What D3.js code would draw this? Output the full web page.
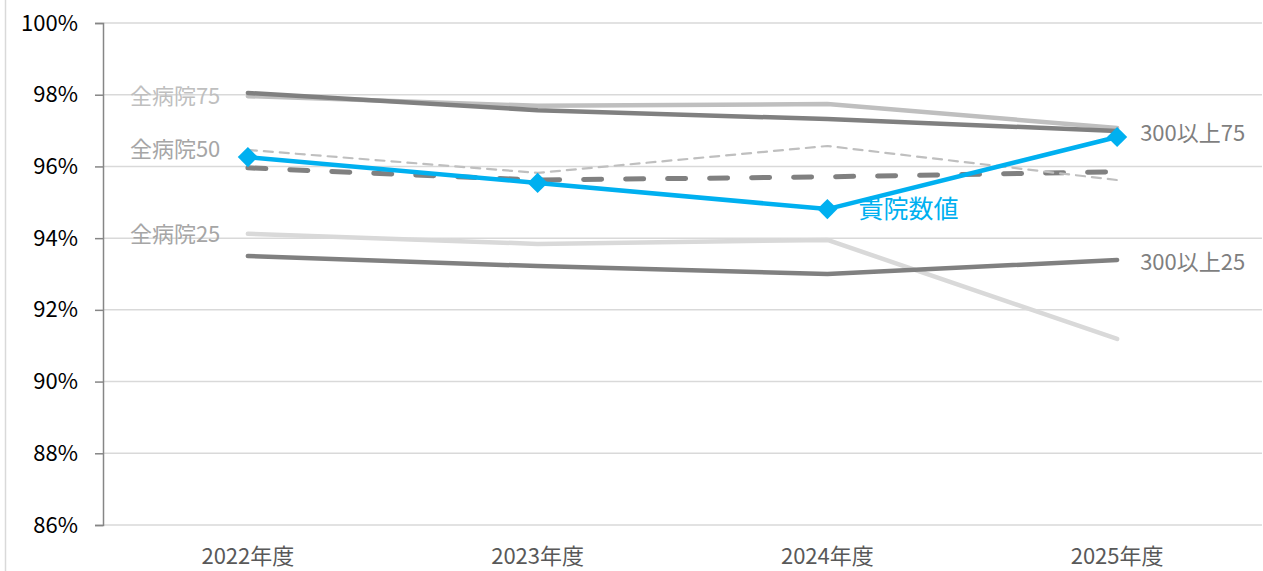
<!DOCTYPE html>
<html>
<head>
<meta charset="utf-8">
<script src="https://cdn.jsdelivr.net/npm/d3@7"></script>
<style>
  body { margin: 0; background: #fff; }
  svg { display: block; }
</style>
</head>
<body>
<div id="chart"></div>
<script>
// 年度カテゴリ
const years = ['2022年度', '2023年度', '2024年度', '2025年度'];
const yTicks = [86, 88, 90, 92, 94, 96, 98, 100];

// 各系列の値（%）
const all75 = [97.96, 97.69, 97.74, 97.07];
const over300_75 = [98.05, 97.57, 97.32, 96.99];
const all50 = [96.46, 95.82, 96.57, 95.62];
const over300_50 = [95.96, 95.62, 95.71, 95.85];
const ownValues = [96.26, 95.54, 94.81, 96.82];
const all25 = [94.12, 93.84, 93.95, 91.19];
const over300_25 = [93.50, 93.22, 93.00, 93.39];

const width = 1263, height = 571;
const margin = { top: 23, right: 1, bottom: 46, left: 103 };

const svg = d3.select('#chart').append('svg')
  .attr('width', width).attr('height', height);

const x = d3.scaleBand().domain(years)
  .range([margin.left, width - margin.right]);
const y = d3.scaleLinear().domain([86, 100])
  .range([height - margin.bottom, margin.top]);

const font = "'Noto Sans CJK JP', 'Noto Sans', sans-serif";

// 外枠の左線
svg.append('line')
  .attr('x1', 5.5).attr('x2', 5.5).attr('y1', 0).attr('y2', height)
  .style('stroke', '#d9d9d9').style('stroke-width', 1.5);

// グリッド線
svg.append('g').selectAll('line').data(yTicks).join('line')
  .attr('x1', margin.left).attr('x2', width - margin.right)
  .attr('y1', d => y(d)).attr('y2', d => y(d))
  .style('stroke', '#d9d9d9').style('stroke-width', 1.5);

// Y軸
const yAxis = svg.append('g')
  .attr('transform', `translate(${margin.left},0)`)
  .call(d3.axisLeft(y).tickValues(yTicks).tickSize(8).tickPadding(17)
    .tickFormat(d => d + '%'));
yAxis.select('.domain').style('stroke', '#868686').style('stroke-width', 1.5);
yAxis.selectAll('.tick line').style('stroke', '#868686').style('stroke-width', 1.5);
yAxis.selectAll('text').style('font-family', font).style('font-size', '22px')
  .style('fill', '#000');

// X軸ラベル
svg.append('g').selectAll('text').data(years).join('text')
  .attr('x', d => x(d) + x.bandwidth() / 2)
  .attr('y', 564)
  .attr('text-anchor', 'middle')
  .style('font-family', font).style('font-size', '22px')
  .style('fill', '#595959')
  .text(d => d);

const line = d3.line()
  .x((d, i) => x(years[i]) + x.bandwidth() / 2)
  .y(d => y(d));

const series = [
  { values: all25, color: '#d9d9d9', w: 4.5 },
  { values: over300_25, color: '#808080', w: 4.5 },
  { values: all75, color: '#bfbfbf', w: 4.5 },
  { values: over300_75, color: '#808080', w: 4.5 },
  { values: over300_50, color: '#808080', w: 5, dash: '18,24' },
  { values: all50, color: '#bfbfbf', w: 2.2, dash: '9,7' },
  { values: ownValues, color: '#00b0f0', w: 4.5 }
];

series.forEach(s => {
  svg.append('path')
    .datum(s.values)
    .attr('d', line)
    .style('fill', 'none')
    .style('stroke', s.color)
    .style('stroke-width', s.w)
    .style('stroke-linecap', 'round')
    .style('stroke-linejoin', 'round')
    .style('stroke-dasharray', s.dash || null);
});

// 貴院数値のマーカー（ひし形）
svg.append('g').selectAll('path').data(ownValues).join('path')
  .attr('transform', (d, i) => `translate(${x(years[i]) + x.bandwidth() / 2},${y(d)})`)
  .attr('d', d3.symbol().type(d3.symbolDiamond2).size(260))
  .style('fill', '#00b0f0');

// 系列ラベル
const labels = [
  { text: '全病院75', values: all75, i: 0, dx: -118, dy: 2, color: '#bfbfbf' },
  { text: '全病院50', values: all50, i: 0, dx: -118, dy: 1, color: '#a6a6a6' },
  { text: '全病院25', values: all25, i: 0, dx: -118, dy: 2, color: '#a6a6a6' },
  { text: '300以上75', values: over300_75, i: 3, dx: 23, dy: 4, color: '#7f7f7f' },
  { text: '300以上25', values: over300_25, i: 3, dx: 23, dy: 4, color: '#7f7f7f' }
];

svg.append('g').selectAll('text').data(labels).join('text')
  .attr('x', d => x(years[d.i]) + x.bandwidth() / 2 + d.dx)
  .attr('y', d => y(d.values[d.i]) + d.dy)
  .attr('dominant-baseline', 'middle')
  .style('font-family', font).style('font-size', '22px')
  .style('fill', d => d.color)
  .text(d => d.text);

svg.append('text')
  .attr('x', x(years[2]) + x.bandwidth() / 2 + 31)
  .attr('y', y(ownValues[2]) + 2)
  .attr('dominant-baseline', 'middle')
  .style('font-family', font).style('font-size', '25px')
  .style('fill', '#00b0f0')
  .text('貴院数値');
</script>
</body>
</html>
